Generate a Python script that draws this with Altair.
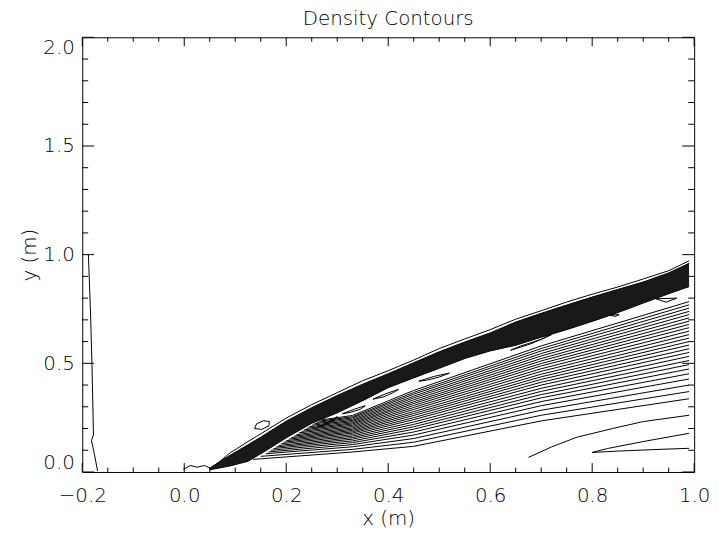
import altair as alt
import pandas as pd

# ---------------- data ----------------
x_major = [-0.2, 0.0, 0.2, 0.4, 0.6, 0.8, 1.0]
x_minor = [-0.15, -0.1, -0.05, 0.05, 0.1, 0.15, 0.25, 0.3, 0.35, 0.45, 0.5, 0.55,
           0.65, 0.7, 0.75, 0.85, 0.9, 0.95]
y_major = [0.0, 0.5, 1.0, 1.5, 2.0]
y_minor = [0.1, 0.2, 0.3, 0.4, 0.6, 0.7, 0.8, 0.9, 1.1, 1.2, 1.3, 1.4,
           1.6, 1.7, 1.8, 1.9]

# dense shock band (many packed contours, drawn as a dark band)
band_x = [0.05, 0.09, 0.125, 0.16, 0.2, 0.25, 0.3, 0.35, 0.4, 0.45, 0.5, 0.55,
          0.6, 0.65, 0.7, 0.75, 0.8, 0.85, 0.9, 0.95, 0.99]
band_upper = [0.018, 0.077, 0.125, 0.175, 0.234, 0.296, 0.352, 0.404, 0.452, 0.503,
              0.553, 0.598, 0.640, 0.690, 0.730, 0.768, 0.805, 0.840, 0.874, 0.916, 0.960]
band_lower = [0.010, 0.028, 0.049, 0.098, 0.157, 0.224, 0.272, 0.328, 0.388, 0.433,
              0.477, 0.522, 0.557, 0.583, 0.620, 0.655, 0.693, 0.733, 0.777, 0.820, 0.853]

# outer contour just above the band
outer_x = [0.06, 0.09, 0.125, 0.16, 0.2, 0.25, 0.3, 0.35, 0.4, 0.45, 0.5, 0.55,
           0.6, 0.65, 0.7, 0.75, 0.8, 0.85, 0.9, 0.95, 0.99]
outer_y = [0.030, 0.088, 0.140, 0.190, 0.248, 0.310, 0.365, 0.420, 0.466, 0.515, 0.568,
           0.612, 0.655, 0.703, 0.742, 0.782, 0.818, 0.851, 0.888, 0.926, 0.972]

# fan of contours below the band: start point, then y at x = 0.33, 0.45, 0.70, 0.99
fan_start_x = [0.270, 0.265, 0.260, 0.255, 0.250, 0.245, 0.240, 0.235, 0.230, 0.225,
               0.220, 0.215, 0.210, 0.205, 0.200, 0.195, 0.190, 0.185, 0.180, 0.175,
               0.170, 0.165, 0.160, 0.150, 0.135]
fan_start_y = [0.240, 0.234, 0.228, 0.222, 0.215, 0.208, 0.201, 0.194, 0.187, 0.180,
               0.172, 0.165, 0.158, 0.151, 0.144, 0.137, 0.130, 0.122, 0.115, 0.108,
               0.100, 0.092, 0.084, 0.072, 0.058]
fan_stations = [0.33, 0.45, 0.70, 0.99]
fan_y_033 = [0.260, 0.254, 0.249, 0.243, 0.237, 0.232, 0.226, 0.221, 0.215, 0.209,
             0.203, 0.197, 0.191, 0.185, 0.179, 0.172, 0.165, 0.158, 0.151, 0.143,
             0.135, 0.126, 0.116, 0.104, 0.092]
fan_y_045 = [0.375, 0.366, 0.358, 0.349, 0.341, 0.332, 0.323, 0.315, 0.306, 0.297,
             0.288, 0.278, 0.269, 0.260, 0.250, 0.241, 0.230, 0.219, 0.208, 0.197,
             0.184, 0.170, 0.154, 0.137, 0.118]
fan_y_070 = [0.580, 0.568, 0.557, 0.545, 0.534, 0.522, 0.511, 0.499, 0.488, 0.475,
             0.463, 0.450, 0.438, 0.426, 0.413, 0.400, 0.385, 0.371, 0.356, 0.341,
             0.324, 0.305, 0.284, 0.261, 0.235]
fan_y_099 = [0.784, 0.769, 0.754, 0.739, 0.724, 0.709, 0.694, 0.679, 0.664, 0.648,
             0.632, 0.616, 0.600, 0.584, 0.567, 0.550, 0.532, 0.513, 0.494, 0.474,
             0.452, 0.428, 0.400, 0.370, 0.337]

# individual contours
left_x = [-0.188, -0.184, -0.181, -0.178, -0.182, -0.176, -0.170]
left_y = [1.00, 0.75, 0.50, 0.17, 0.145, 0.08, 0.005]
squig_x = [-0.002, 0.012, 0.025, 0.040, 0.050]
squig_y = [0.012, 0.030, 0.022, 0.030, 0.018]
low_x = [0.675, 0.72, 0.77, 0.84, 0.90, 0.99]
low_y = [0.067, 0.115, 0.160, 0.200, 0.232, 0.261]
wedge_x = [0.99, 0.90, 0.83, 0.80, 0.85, 0.92, 0.99]
wedge_y = [0.178, 0.140, 0.108, 0.090, 0.096, 0.103, 0.109]

loops = {
    "loopA": ([0.138, 0.142, 0.155, 0.167, 0.166, 0.152, 0.138],
              [0.200, 0.222, 0.236, 0.232, 0.212, 0.196, 0.200]),
    "loopR": ([0.925, 0.945, 0.966, 0.925], [0.797, 0.781, 0.800, 0.797]),
    "loopR2": ([0.834, 0.845, 0.853, 0.834], [0.722, 0.716, 0.724, 0.722]),
    "loop1": ([0.26, 0.285, 0.30, 0.295, 0.275, 0.26], [0.205, 0.232, 0.255, 0.238, 0.215, 0.205]),
    "loop2": ([0.31, 0.335, 0.355, 0.345, 0.325, 0.31], [0.268, 0.290, 0.305, 0.288, 0.274, 0.268]),
    "loop3": ([0.37, 0.395, 0.42, 0.41, 0.39, 0.37], [0.335, 0.360, 0.380, 0.365, 0.345, 0.335]),
    "loop4": ([0.46, 0.49, 0.52, 0.50, 0.475, 0.46], [0.418, 0.440, 0.455, 0.437, 0.422, 0.418]),
    "loop5": ([0.64, 0.68, 0.72, 0.70, 0.66, 0.64], [0.560, 0.590, 0.632, 0.610, 0.580, 0.560]),
}

# ---------------- build tables ----------------
rows = []


def add(name, xs, ys):
    for i, (a, b) in enumerate(zip(xs, ys)):
        rows.append({"id": name, "o": i, "x": a, "y": b})


for k in range(len(fan_start_x)):
    add(f"fan{k}", [fan_start_x[k]] + fan_stations,
        [fan_start_y[k], fan_y_033[k], fan_y_045[k], fan_y_070[k], fan_y_099[k]])
add("upper", band_x, band_upper)
add("lower", band_x, band_lower)
add("outer", outer_x, outer_y)
add("left", left_x, left_y)
add("squig", squig_x, squig_y)
add("low", low_x, low_y)
add("wedge", wedge_x, wedge_y)
for name, (xs, ys) in loops.items():
    add(name, xs, ys)

lines_df = pd.DataFrame(rows)
band_df = pd.DataFrame({"x": band_x, "up": band_upper, "lo": band_lower})

W, H = 618, 439
FONT = "DejaVu Sans"

xscale = alt.Scale(domain=[-0.2, 1.0], nice=False, zero=False)
yscale = alt.Scale(domain=[0.0, 2.0], nice=False, zero=False)
x_axis = alt.Axis(values=x_major, format=".1f", title="x (m)", labelPadding=14,
                  titleX=W / 2, titleY=47, titleBaseline="middle",
                  domain=False, ticks=False, tickSize=0, grid=False,
                  labelFont=FONT, labelFontSize=20, labelFontWeight=200, labelColor="black",
                  titleFont=FONT, titleFontSize=20, titleFontWeight=200, titleColor="black",
                  labelFlush=False, labelOverlap=False)
y_axis = alt.Axis(values=y_major, format=".1f", title="y (m)", labelPadding=8,
                  titleX=-53, titleY=H / 2, titleBaseline="middle", titleAlign="center",
                  domain=False, ticks=False, tickSize=0, grid=False,
                  labelFont=FONT, labelFontSize=20, labelFontWeight=200, labelColor="black",
                  titleFont=FONT, titleFontSize=20, titleFontWeight=200, titleColor="black",
                  labelFlush=True, labelOverlap=False)

band = alt.Chart(band_df).mark_area(color="black", opacity=0.9).encode(
    x=alt.X("x:Q", scale=xscale, axis=x_axis),
    y=alt.Y("up:Q", scale=yscale, axis=y_axis),
    y2="lo:Q",
)

contours = alt.Chart(lines_df).mark_line(color="black", strokeWidth=1).encode(
    x=alt.X("x:Q", scale=xscale, axis=x_axis),
    y=alt.Y("y:Q", scale=yscale, axis=y_axis),
    detail="id:N",
    order="o:Q",
)


def xticks(vals, length):
    d = pd.DataFrame({"v": vals})
    bottom = alt.Chart(d).mark_rule(color="black").encode(
        x=alt.X("v:Q", scale=xscale, axis=x_axis), y=alt.value(H), y2=alt.value(H - length))
    top = alt.Chart(d).mark_rule(color="black").encode(
        x=alt.X("v:Q", scale=xscale, axis=x_axis), y=alt.value(0), y2=alt.value(length))
    return [bottom, top]


def yticks(vals, length):
    d = pd.DataFrame({"v": vals})
    left = alt.Chart(d).mark_rule(color="black").encode(
        y=alt.Y("v:Q", scale=yscale, axis=y_axis), x=alt.value(0), x2=alt.value(length))
    right = alt.Chart(d).mark_rule(color="black").encode(
        y=alt.Y("v:Q", scale=yscale, axis=y_axis), x=alt.value(W), x2=alt.value(W - length))
    return [left, right]


layers = [band, contours] + xticks(x_major, 9) + xticks(x_minor, 4.5) \
    + yticks(y_major, 12) + yticks(y_minor, 6)

chart = alt.layer(*layers).properties(
    width=W, height=H,
    autosize="none",
    background="white",
    padding={"left": 75, "top": 27, "right": 17, "bottom": 58},
    title=alt.TitleParams("Density Contours", fontSize=20, font=FONT, fontWeight=200,
                          color="black", offset=4, anchor="middle", frame="group", dy=-4),
).configure_view(stroke="black", strokeWidth=1)

chart.save("out.html", embed_options={"renderer": "svg", "actions": False})
